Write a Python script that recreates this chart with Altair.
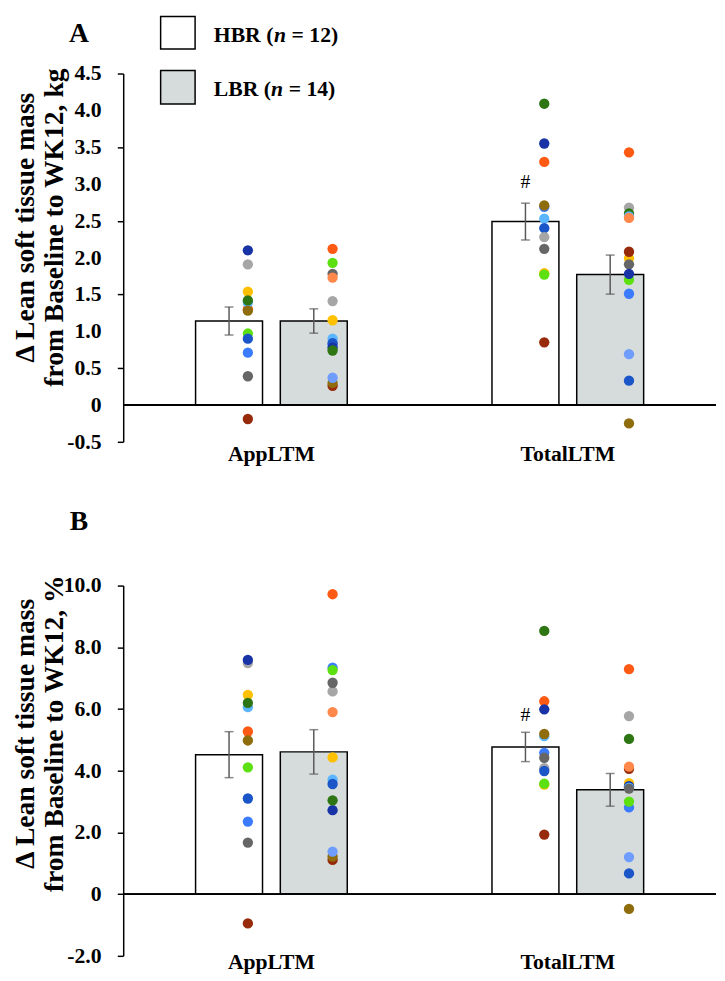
import altair as alt
import pandas as pd

FONT = "Liberation Serif"

CATEGORIES = ["AppLTM", "TotalLTM"]
GROUPS = ["HBR", "LBR"]
GROUP_N = [12, 14]

# Subject colour keys and their colours
COLOR_KEYS = ["dkblue", "ltgray", "yellow", "dkgreen", "ltblue", "orange", "olive",
              "lime", "blue", "brblue", "dkgray", "dkred", "ltorange", "periw"]
COLOR_HEX = ["#1733a6", "#a6a6a6", "#ffc000", "#2e7514", "#5cb6ff", "#ff5a14", "#8f6c0c",
             "#5de010", "#1a56c8", "#3b7bff", "#666666", "#962a0a", "#ff884a", "#6f9cff"]

# Bar means and SE, order: App-HBR, App-LBR, Total-HBR, Total-LBR
A_MEAN = [1.14, 1.14, 2.49, 1.77]
A_SE = [0.19, 0.165, 0.25, 0.265]
B_MEAN = [4.52, 4.61, 4.77, 3.38]
B_SE = [0.745, 0.72, 0.475, 0.53]

# Panel A individual values (kg)
A_APP_HBR_VAL = [1.30, 1.39, 2.10, 1.91, 1.54, 1.42, 1.28, 0.97, 0.90, 0.71, 0.39, -0.19]
A_APP_HBR_COL = ["orange", "ltblue", "dkblue", "ltgray", "yellow", "dkgreen", "olive", "lime", "blue", "brblue", "dkgray", "dkred"]
A_APP_LBR_VAL = [2.12, 1.93, 1.78, 1.73, 1.41, 1.15, 0.82, 0.90, 0.84, 0.78, 0.74, 0.26, 0.30, 0.37]
A_APP_LBR_COL = ["orange", "lime", "dkgray", "ltorange", "ltgray", "yellow", "brblue", "ltblue", "blue", "dkblue", "dkgreen", "dkred", "olive", "periw"]
A_TOT_HBR_VAL = [4.09, 3.55, 3.30, 2.69, 2.71, 2.53, 2.40, 2.28, 2.12, 1.79, 1.77, 0.85]
A_TOT_HBR_COL = ["dkgreen", "dkblue", "orange", "brblue", "olive", "ltblue", "blue", "ltgray", "dkgray", "yellow", "lime", "dkred"]
A_TOT_LBR_VAL = [3.43, 2.68, 2.60, 2.56, 2.54, 1.99, 2.08, 1.91, 1.70, 1.78, 1.51, 0.69, 0.33, -0.25]
A_TOT_LBR_COL = ["orange", "ltgray", "dkgreen", "ltblue", "ltorange", "yellow", "dkred", "dkgray", "lime", "dkblue", "brblue", "periw", "blue", "olive"]

# Panel B individual values (%)
B_APP_HBR_VAL = [7.49, 7.59, 6.46, 6.06, 6.20, 5.27, 4.98, 4.11, 3.10, 2.35, 1.67, -0.95]
B_APP_HBR_COL = ["ltgray", "dkblue", "yellow", "ltblue", "dkgreen", "orange", "olive", "lime", "blue", "brblue", "dkgray", "dkred"]
B_APP_LBR_VAL = [9.72, 7.34, 7.26, 6.57, 6.85, 5.90, 4.43, 3.71, 3.57, 2.72, 3.04, 1.11, 1.22, 1.38]
B_APP_LBR_COL = ["orange", "brblue", "lime", "ltgray", "dkgray", "ltorange", "yellow", "ltblue", "blue", "dkblue", "dkgreen", "dkred", "olive", "periw"]
B_TOT_HBR_VAL = [8.53, 6.25, 5.99, 5.12, 5.19, 4.58, 4.42, 4.08, 3.99, 3.55, 3.58, 1.93]
B_TOT_HBR_COL = ["dkgreen", "orange", "dkblue", "ltblue", "olive", "brblue", "dkgray", "ltgray", "blue", "yellow", "lime", "dkred"]
B_TOT_LBR_VAL = [7.29, 5.77, 5.03, 4.06, 4.13, 3.60, 3.50, 3.45, 3.42, 2.81, 3.00, 1.20, 0.67, -0.48]
B_TOT_LBR_COL = ["orange", "ltgray", "dkgreen", "dkred", "ltorange", "yellow", "dkblue", "ltblue", "dkgray", "brblue", "lime", "periw", "blue", "olive"]

A_TICKS = [-0.5, 0, 0.5, 1.0, 1.5, 2.0, 2.5, 3.0, 3.5, 4.0, 4.5]
B_TICKS = [-2, 0, 2, 4, 6, 8, 10]

W = 602


def bars_frame(mean, se):
    cats = [c for c in CATEGORIES for _ in GROUPS]
    grps = GROUPS * len(CATEGORIES)
    df = pd.DataFrame({"cat": cats, "grp": grps, "mean": mean, "se": se})
    df["lo"] = df["mean"] - df["se"]
    df["hi"] = df["mean"] + df["se"]
    return df


def dots_frame(series):
    rows = []
    for cat, grp, vals, cols in series:
        for v, c in zip(vals, cols):
            rows.append({"cat": cat, "grp": grp, "val": v, "col": c})
    return pd.DataFrame(rows)


def panel(letter, mean, se, dots, ydom, yticks, unit, h, title_y, hash_dy, xlab_pad, legend):
    bars = bars_frame(mean, se)
    x = alt.X("cat:N", sort=CATEGORIES,
              scale=alt.Scale(domain=CATEGORIES, paddingInner=0, paddingOuter=0),
              axis=alt.Axis(title=None, domain=False, ticks=False, labelAngle=0,
                            labelPadding=xlab_pad, labelFontSize=22, labelFont=FONT,
                            labelFontWeight="bold", labelColor="black"))
    xo_bar = alt.XOffset("grp:N", sort=GROUPS,
                         scale=alt.Scale(type="band", domain=GROUPS, paddingInner=0.21, paddingOuter=0.854))
    xo_dot = alt.XOffset("grp:N", sort=GROUPS,
                         scale=alt.Scale(type="band", domain=GROUPS, paddingInner=0.21,
                                         paddingOuter=0.854, align=0.63))
    yscale = alt.Scale(domain=ydom, nice=False, zero=False)
    yaxis = alt.Axis(values=yticks, labels=False,
                     title=["\u0394 Lean soft tissue mass", "from Baseline to WK12, " + unit],
                     titleX=-85, titleY=title_y, titleLineHeight=29, titleFontSize=28,
                     titleFont=FONT, titleFontWeight="bold", titleColor="black",
                     titleAngle=270, titleBaseline="bottom",
                     grid=False, domainColor="black", domainWidth=1.5,
                     tickColor="black", tickWidth=1.5, tickSize=6)

    def Y(field):
        return alt.Y(field, scale=yscale, axis=yaxis)

    base = alt.Chart(bars)
    bar = base.mark_bar(stroke="black", strokeWidth=1.5).encode(
        x=x, xOffset=xo_bar,
        y=Y("mean:Q"),
        y2=alt.datum(0),
        fill=alt.Fill("grp:N", scale=alt.Scale(domain=GROUPS, range=["white", "#d5dcdb"]), legend=None),
    )
    zero = base.mark_rule(color="black", strokeWidth=1.5).encode(
        y=alt.datum(0), x=alt.value(0), x2=alt.value(W))
    err = base.mark_rule(color="#595959", strokeWidth=1.5).encode(
        x=x, xOffset=xo_bar, y=Y("lo:Q"), y2="hi:Q")
    cap_lo = base.mark_tick(color="#595959", thickness=1.5, size=9).encode(
        x=x, xOffset=xo_bar, y=Y("lo:Q"))
    cap_hi = base.mark_tick(color="#595959", thickness=1.5, size=9).encode(
        x=x, xOffset=xo_bar, y=Y("hi:Q"))
    hash_mark = base.transform_filter(
        (alt.datum.cat == "TotalLTM") & (alt.datum.grp == "HBR")
    ).mark_text(text="#", font=FONT, fontSize=20, baseline="bottom", dy=hash_dy, color="black").encode(
        x=x, xOffset=xo_bar, y=Y("hi:Q"))
    pts = alt.Chart(dots).mark_circle(size=110, opacity=1).encode(
        x=x, xOffset=xo_dot,
        y=Y("val:Q"),
        color=alt.Color("col:N", scale=alt.Scale(domain=COLOR_KEYS, range=COLOR_HEX), legend=None),
    )
    ylabels = alt.Chart(pd.DataFrame({"tick": yticks})).transform_calculate(
        lab="datum.tick == 0 ? '0' : (datum.tick < 0 ? '-' + format(-datum.tick, '.1f') : format(datum.tick, '.1f'))"
    ).mark_text(align="right", baseline="middle", font=FONT, fontSize=22,
                fontWeight="bold", color="black").encode(
        x=alt.value(-22), y=Y("tick:Q"), text="lab:N")

    one = pd.DataFrame({"k": [0]})
    letter_mark = alt.Chart(one).mark_text(
        text=letter, font=FONT, fontSize=28, fontWeight="bold", color="black",
        align="center", baseline="middle").encode(
        x=alt.value(-45), y=alt.value(-40 if legend else -64))

    layers = [bar, zero, err, cap_lo, cap_hi, hash_mark, pts, ylabels, letter_mark]

    if legend:
        fills = ["white", "#d5dcdb"]
        rows_y = [(-58, -25), (-3, 31)]
        n_x = [153, 150]
        rest_x = [171, 168]
        for g, n, f, (y1, y2), nx, rx in zip(GROUPS, GROUP_N, fills, rows_y, n_x, rest_x):
            ym = (y1 + y2) / 2 + 2
            layers.append(alt.Chart(one).mark_rect(fill=f, stroke="black", strokeWidth=1.5).encode(
                x=alt.value(38), x2=alt.value(73), y=alt.value(y1), y2=alt.value(y2)))
            common = dict(font=FONT, fontSize=22, fontWeight="bold", color="black",
                          align="left", baseline="middle")
            layers.append(alt.Chart(one).mark_text(text=f"{g} (", **common).encode(
                x=alt.value(92), y=alt.value(ym)))
            layers.append(alt.Chart(one).mark_text(text="n", fontStyle="italic", **common).encode(
                x=alt.value(nx), y=alt.value(ym)))
            layers.append(alt.Chart(one).mark_text(text=f"= {n})", **common).encode(
                x=alt.value(rx), y=alt.value(ym)))

    return alt.layer(*layers).resolve_scale(xOffset="independent").properties(width=W, height=h)


dots_a = dots_frame([
    ("AppLTM", "HBR", A_APP_HBR_VAL, A_APP_HBR_COL),
    ("AppLTM", "LBR", A_APP_LBR_VAL, A_APP_LBR_COL),
    ("TotalLTM", "HBR", A_TOT_HBR_VAL, A_TOT_HBR_COL),
    ("TotalLTM", "LBR", A_TOT_LBR_VAL, A_TOT_LBR_COL),
])
dots_b = dots_frame([
    ("AppLTM", "HBR", B_APP_HBR_VAL, B_APP_HBR_COL),
    ("AppLTM", "LBR", B_APP_LBR_VAL, B_APP_LBR_COL),
    ("TotalLTM", "HBR", B_TOT_HBR_VAL, B_TOT_HBR_COL),
    ("TotalLTM", "LBR", B_TOT_LBR_VAL, B_TOT_LBR_COL),
])

pa = panel("A", A_MEAN, A_SE, dots_a, [-0.5, 4.5], A_TICKS, "kg", 374, 156, -11, 2, True)
pb = panel("B", B_MEAN, B_SE, dots_b, [-2, 10], B_TICKS, "%", 376, 150, -7, -4, False)

chart = (
    alt.vconcat(pa, pb, spacing=45)
    .properties(padding={"left": 3, "top": 0, "right": 0, "bottom": 0})
    .configure_view(stroke=None)
)

chart.save("out.html", embed_options={"renderer": "svg", "actions": False})
